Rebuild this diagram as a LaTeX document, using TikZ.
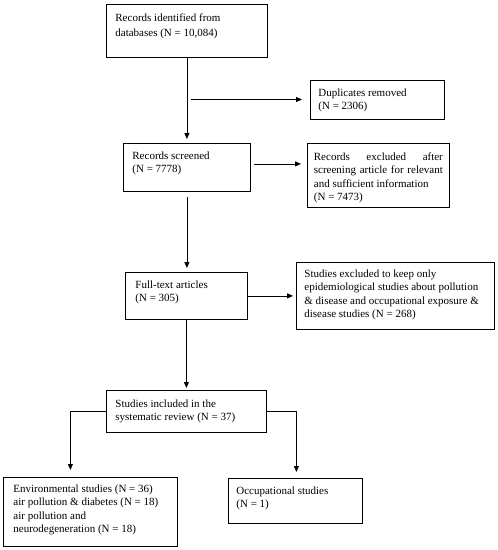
\documentclass[tikz,border=0pt]{standalone}
\usepackage{fontspec}
\setmainfont{Liberation Serif}
\usetikzlibrary{arrows.meta,calc}
\newcommand{\boxtext}[4][16pt]{\parbox[b][#3][t]{#2}{\rule{0pt}{#1}#4}}
\tikzset{
  box/.style={draw, line width=0.8pt, anchor=north west, inner ysep=0pt, inner xsep=8pt,
    font=\fontsize{11}{13.3}\selectfont},
  arr/.style={line width=0.8pt, -{Triangle[length=6pt,width=5pt]}},
  ln/.style={line width=0.8pt}
}
\begin{document}
\begin{tikzpicture}[x=1pt,y=-1pt]
\useasboundingbox (0,0) rectangle (498,550);
\node[box,inner xsep=9pt] (b1) at (106,4) {\fontsize{11}{15}\selectfont\boxtext[17pt]{143pt}{53pt}{Records identified from\\databases (N = 10,084)}};
\node[box] (b2) at (310,80) {\boxtext{118pt}{39pt}{Duplicates removed\\(N = 2306)}};
\node[box,inner xsep=9pt] (b3) at (123,143) {\boxtext{109pt}{48pt}{Records screened\\(N = 7778)}};
\node[box,inner xsep=6.5pt] (b4) at (307,143) {\boxtext[17pt]{129pt}{64pt}{Records excluded after\linebreak screening article for relevant\linebreak and sufficient information\\(N = 7473)}};
\node[box,inner xsep=10pt] (b5) at (125,272) {\boxtext{102pt}{47pt}{Full-text articles\\(N = 305)}};
\node[box] (b6) at (296,262) {\boxtext[15pt]{182pt}{67pt}{Studies excluded to keep only\\epidemiological studies about pollution\\\& disease and occupational exposure \&\\disease studies (N = 268)}};
\node[box,inner xsep=9pt] (b7) at (106,390) {\boxtext[17pt]{142pt}{42pt}{Studies included in the\\systematic review (N = 37)}};
\node[box,inner xsep=10pt] (b8) at (3,477) {\boxtext[15pt]{154pt}{69pt}{Environmental studies (N = 36)\\air pollution \& diabetes (N = 18)\\air pollution and\\neurodegeneration (N = 18)}};
\node[box] (b9) at (228,478) {\boxtext{118pt}{45pt}{Occupational studies\\(N = 1)}};
\coordinate (d0) at (191,99.5);
\draw[arr, shorten >=4pt] (b1.south) -- (b1.south |- b3.north);
\draw[arr, shorten >=8pt] (d0) -- (d0 -| b2.west);
\draw[arr, shorten >=6pt] ([xshift=3pt,yshift=3.5pt]b3.east) coordinate (a3s) -- (a3s -| b4.west);
\draw[arr, shorten <=5pt, shorten >=4pt] (b3.south) -- (b3.south |- b5.north);
\draw[arr, shorten >=3pt] (b5.east) -- (b5.east -| b6.west);
\draw[arr, shorten >=2pt] (b5.south) -- (b5.south |- b7.north);
\draw[arr, shorten >=7pt] (b7.west) -| ([xshift=-20pt]b8.north);
\draw[arr, shorten >=6pt] (b7.east) -| ([xshift=1pt]b9.north);
\end{tikzpicture}
\end{document}
